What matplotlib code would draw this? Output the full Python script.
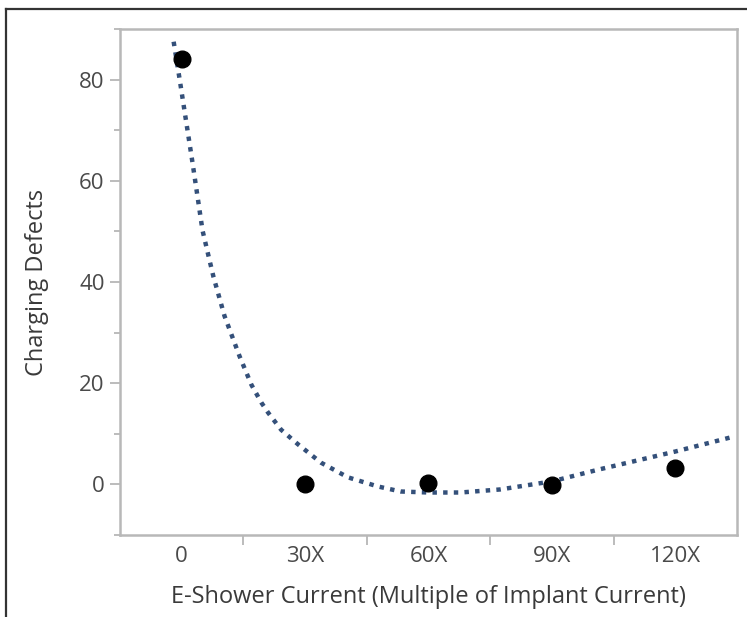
import numpy as np
import matplotlib.pyplot as plt
from matplotlib.lines import Line2D
from matplotlib.ticker import MultipleLocator, FixedLocator, NullFormatter

# measured defects per e-shower setting
categories = ['0', '30X', '60X', '90X', '120X']
defects = [84.1, 0.1, 0.2, -0.1, 3.2]

# fitted trend, points
fit_x = [-0.065, -0.016, 0.089, 0.169, 0.218, 0.258, 0.347, 0.468, 0.565, 0.645,
         0.70, 0.806, 0.944, 1.129, 1.347, 1.589, 1.774, 2.0, 2.26, 2.58,
         3.0, 3.39, 4.0, 4.45]
fit_y = [87.5, 80.0, 63.4, 50.2, 45.1, 41.0, 33.3, 25.4, 19.7, 16.2,
         14.2, 10.8, 7.9, 4.3, 1.4, -0.4, -1.4, -1.6, -1.6, -1.0,
         0.6, 3.0, 6.5, 9.3]

plt.rcParams['font.family'] = ['Open Sans', 'DejaVu Sans']

fig = plt.figure(figsize=(7.47, 6.17), dpi=100)
ax = fig.add_axes([0.1606, 0.1329, 0.826, 0.820])

ax.plot(fit_x, fit_y, color='#34507a', linewidth=3.2, linestyle=(0, (1, 1.4)), zorder=2)
ax.plot(range(len(categories)), defects, 'o', color='black', markersize=12, zorder=3)

ax.set_xlim(-0.5, 4.5)
ax.set_ylim(-10, 90)

ax.xaxis.set_major_locator(FixedLocator(range(len(categories))))
ax.set_xticklabels(categories)
ax.xaxis.set_minor_locator(FixedLocator([0.5, 1.5, 2.5, 3.5]))
ax.tick_params(axis='x', which='major', length=0, pad=8)
ax.tick_params(axis='x', which='minor', length=7, width=1.2, color='#b0b0b0')

ax.yaxis.set_major_locator(MultipleLocator(20))
ax.yaxis.set_minor_locator(MultipleLocator(10))
ax.yaxis.set_minor_formatter(NullFormatter())
ax.tick_params(axis='y', which='major', length=7, width=1.2, color='#b0b0b0', pad=4)
ax.tick_params(axis='y', which='minor', length=4, width=1.2, color='#b0b0b0')
ax.tick_params(axis='both', labelsize=16, labelcolor='#4a4a4a')

for s in ax.spines.values():
    s.set_color('#b8b8b8')
    s.set_linewidth(1.8)

ax.set_xlabel('E-Shower Current (Multiple of Implant Current)', fontsize=17,
              color='#3a3a3a', labelpad=13)
ax.set_ylabel('Charging Defects', fontsize=17, color='#3a3a3a', labelpad=22)

# outer frame (only left and top edges visible in the crop)
fx = 6 / 747
fy = 1 - 9 / 617
fig.add_artist(Line2D([fx, fx], [0, fy], transform=fig.transFigure, color='#333333', linewidth=1.6))
fig.add_artist(Line2D([fx, 1], [fy, fy], transform=fig.transFigure, color='#333333', linewidth=1.6))

fig.savefig('out.png', dpi=100)
